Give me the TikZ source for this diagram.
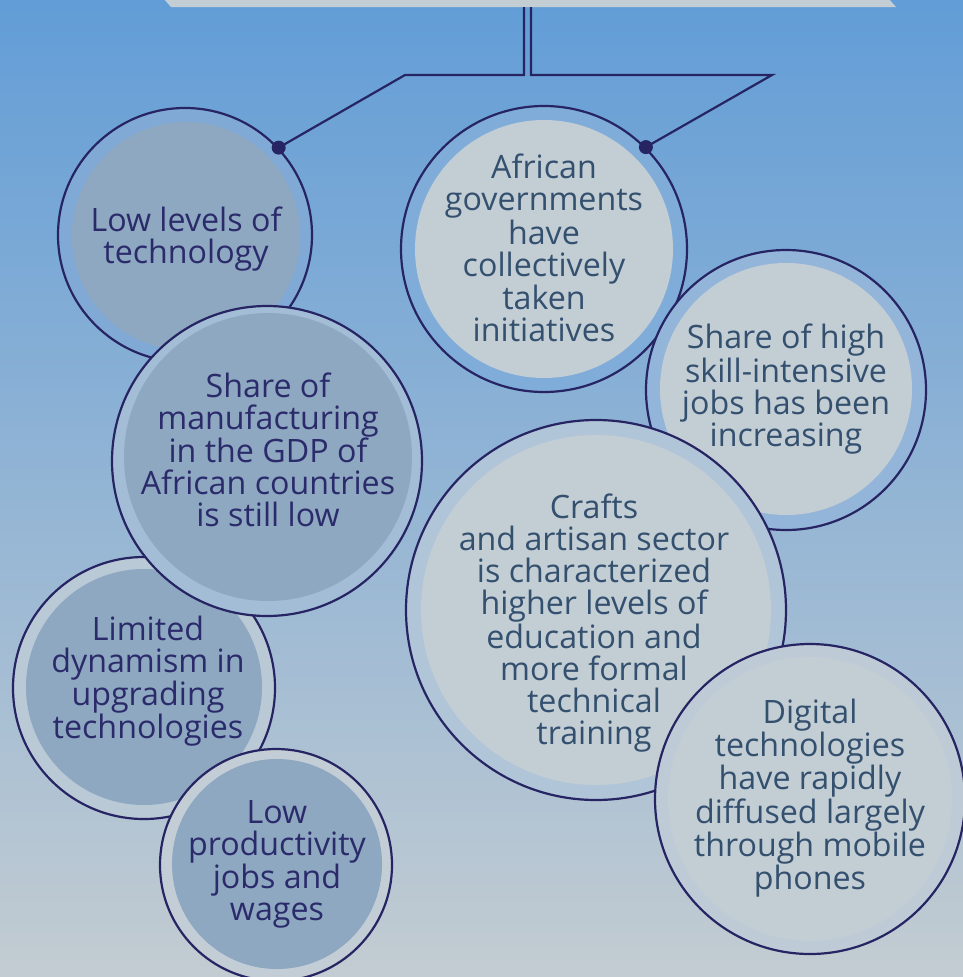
\documentclass[tikz,border=0pt]{standalone}
\usepackage{fontspec}
\setmainfont{Open Sans}
\usepackage{xcolor}
\usepackage{tikz}
\definecolor{ringnavy}{HTML}{262463}
\definecolor{darktext}{HTML}{2B2B6B}
\definecolor{slatetext}{HTML}{34506F}
\definecolor{greydisc}{HTML}{8DA8C0}
\definecolor{palegrey}{HTML}{C3CDD4}
\definecolor{skytop}{HTML}{629DD7}
\definecolor{skymid}{HTML}{A3BDD5}
\definecolor{skybottom}{HTML}{C3CCD2}
\definecolor{haloa}{HTML}{80A9D6}
\definecolor{halob}{HTML}{A3BDD7}
\definecolor{haloc}{HTML}{BAC9D6}
\definecolor{halod}{HTML}{C3CDD6}
\definecolor{haloe}{HTML}{80ACD9}
\definecolor{halof}{HTML}{93B5DA}
\definecolor{halog}{HTML}{B1C5D8}
\definecolor{haloh}{HTML}{BECBD7}

\begin{document}
\begin{tikzpicture}[x=1pt,y=-1pt,
        ring/.style={circle,draw=ringnavy,line width=2.2pt,inner sep=0pt},
        disc/.style={circle,inner sep=0pt},
        leftdisc/.style={disc,fill=greydisc},
        rightdisc/.style={disc,fill=palegrey},
        words/.style={align=center,inner sep=0pt,font=\fontsize{32.2}{32}\selectfont},
        leftwords/.style={words,text=darktext},
        rightwords/.style={words,text=slatetext},
        link/.style={draw=ringnavy,line width=2.2pt}]
                \useasboundingbox (0,0) rectangle (963,977);
                \clip (0,0) rectangle (963,977);
                \shade [top color=skytop, middle color=skymid, bottom color=skybottom] (0,0) rectangle (963,977);
                \fill [palegrey] (147,-20) -- (171,7) -- (896,7) -- (872,-20) -- cycle;
                \coordinate (bannerL) at (524,7);
                \coordinate (bannerR) at (531,7);
                \coordinate (elbowL) at (405,75);
                \coordinate (elbowR) at (772,75);

                \node [ring, fill=haloa, minimum size=254] (lowtechring) at (185,235) {};
                \node [leftdisc, minimum size=228] (lowtech) at (186,236) {};
                \node [leftwords] (lowtechtext) at (186,239) {Low levels of\\technology};

                \node [ring, fill=haloc, minimum size=262] (limitedring) at (144,688) {};
                \node [leftdisc, minimum size=236] (limited) at (144,687) {};
                \node [leftwords] (limitedtext) at (148,681) {Limited\\dynamism in\\upgrading\\technologies};

                \node [ring, fill=halob, minimum size=310] (manufring) at (267,461) {};
                \node [leftdisc, minimum size=288] (manuf) at (268,457) {};
                \node [leftwords] (manuftext) at (268,450) {Share of\\manufacturing\\in the GDP of\\African countries\\is still low};

                \node [ring, fill=halod, minimum size=232] (lowprodring) at (276,865) {};
                \node [leftdisc, minimum size=210] (lowprod) at (277,864) {};
                \node [leftwords] (lowprodtext) at (277,864) {Low\\productivity\\jobs and\\wages};

                \node [ring, fill=haloe, minimum size=286] (govring) at (544,249) {};
                \node [rightdisc, minimum size=258] (gov) at (544,249) {};
                \node [rightwords] (govtext) at (544,248) {African\\governments\\have\\collectively\\taken\\initiatives};

                \node [ring, fill=halof, minimum size=280] (skillring) at (786,390) {};
                \node [rightdisc, minimum size=252] (skill) at (786,389) {};
                \node [rightwords] (skilltext) at (786,389) {Share of high\\skill-intensive\\jobs has been\\increasing};

                \node [ring, fill=halog, minimum size=380] (craftsring) at (596,610) {};
                \node [rightdisc, minimum size=350] (crafts) at (596,610) {};
                \node [rightwords] (craftstext) at (594,623) {Crafts\\and artisan sector\\is characterized\\higher levels of\\education and\\more formal\\technical\\training};

                \node [ring, fill=haloh, minimum size=310] (digitalring) at (810,799) {};
                \node [rightdisc, minimum size=284] (digital) at (810,799) {};
                \node [rightwords] (digitaltext) at (810,798) {Digital\\technologies\\have rapidly\\diffused largely\\through mobile\\phones};

                \draw [link] (lowtechring.43) -- (elbowL) -- (elbowL -| bannerL) -- (bannerL);
                \draw [link] (govring.45) -- (elbowR) -- (elbowR -| bannerR) -- (bannerR);
                \fill [ringnavy] (lowtechring.43) circle (7);
                \fill [ringnavy] (govring.45) circle (7);
\end{tikzpicture}
\end{document}
